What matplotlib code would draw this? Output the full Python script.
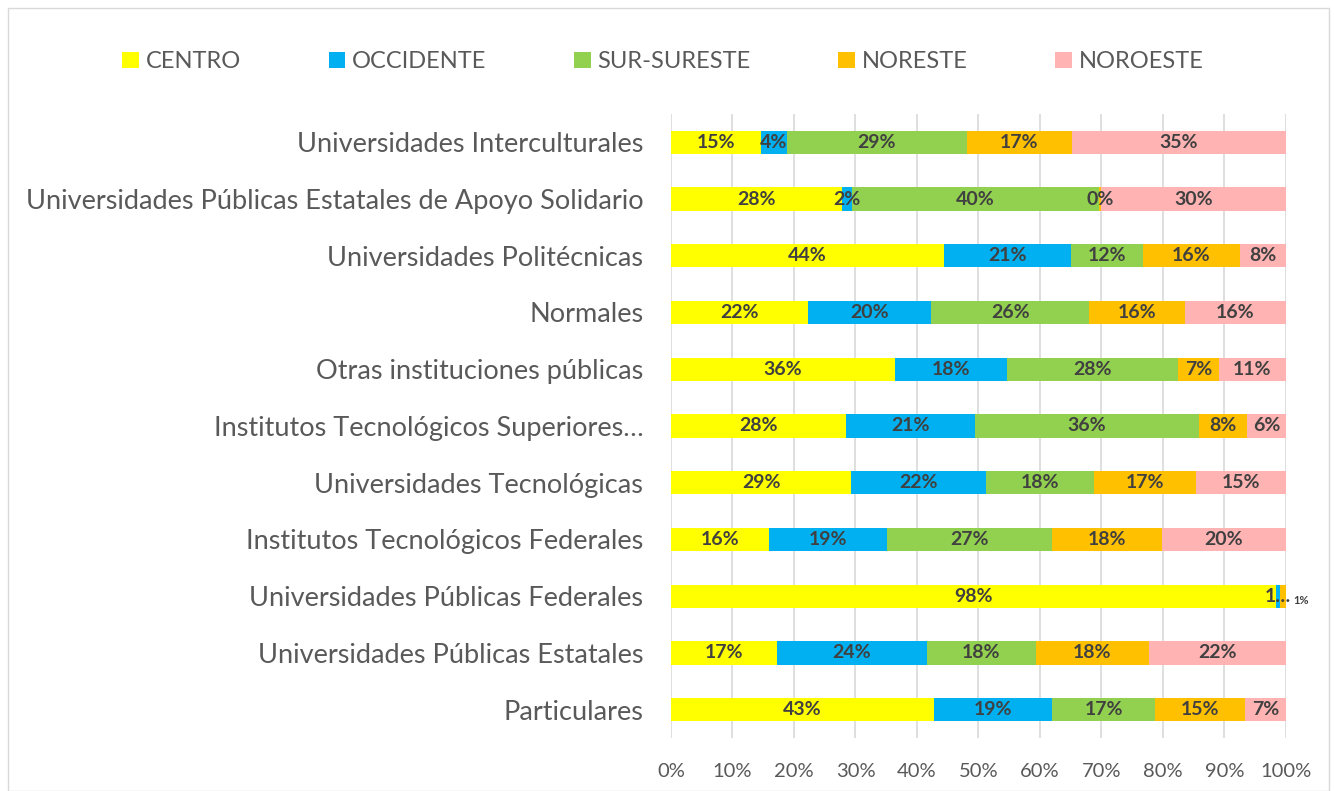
import numpy as np
import matplotlib.pyplot as plt
from matplotlib.patches import Rectangle

plt.rcParams['font.family'] = ['Lato', 'DejaVu Sans']

categorias = ['Universidades Interculturales',
              'Universidades Públicas Estatales de Apoyo Solidario',
              'Universidades Politécnicas',
              'Normales',
              'Otras instituciones públicas',
              'Institutos Tecnológicos Superiores…',
              'Universidades Tecnológicas',
              'Institutos Tecnológicos Federales',
              'Universidades Públicas Federales',
              'Universidades Públicas Estatales',
              'Particulares']

regiones = ['CENTRO', 'OCCIDENTE', 'SUR-SURESTE', 'NORESTE', 'NOROESTE']
colores = ['#FFFF00', '#00B0F0', '#92D050', '#FFC000', '#FFB3B3']

centro      = [14.6, 27.8, 44.4, 22.3, 36.4, 28.4, 29.3, 15.9, 98.4, 17.2, 42.8]
occidente   = [4.2, 1.6, 20.6, 20.0, 18.2, 21.0, 21.9, 19.2, 0.6, 24.4, 19.2]
sur_sureste = [29.3, 40.2, 11.7, 25.7, 27.8, 36.4, 17.6, 26.8, 0.0, 17.7, 16.7]
noreste     = [17.1, 0.3, 15.8, 15.6, 6.7, 7.9, 16.6, 17.9, 1.1, 18.4, 14.6]
noroeste    = [34.8, 30.1, 7.5, 16.4, 10.9, 6.3, 14.6, 20.2, 0.0, 22.3, 6.7]

series = [centro, occidente, sur_sureste, noreste, noroeste]

fig = plt.figure(figsize=(13.34, 7.91), dpi=100)
ax = fig.add_axes([0.503, 0.067, 0.461, 0.789])

y = np.arange(len(categorias))
izq = np.zeros(len(categorias))
for nombre, vals, col in zip(regiones, series, colores):
    vals = np.array(vals)
    ax.barh(y, vals, left=izq, height=0.41, color=col, label=nombre, zorder=3)
    for i, v in enumerate(vals):
        if v == 0:
            continue
        txt = '%d%%' % round(v)
        if categorias[i] == 'Universidades Públicas Federales' and nombre != 'CENTRO':
            if nombre == 'OCCIDENTE':
                ax.text(izq[i] + v / 2, y[i], '1…', ha='center', va='center',
                        fontsize=14, fontweight='bold', color='#404040', zorder=4)
            else:
                ax.text(101.2, y[i] + 0.07, txt, ha='left', va='center',
                        fontsize=8, fontweight='bold', color='#404040',
                        zorder=4, clip_on=False)
            continue
        ax.text(izq[i] + v / 2, y[i], txt, ha='center', va='center',
                fontsize=14, fontweight='bold', color='#404040', zorder=4)
    izq += vals

ax.set_xlim(0, 100)
ax.set_ylim(len(categorias) - 0.5, -0.5)
ax.set_yticks(y)
ax.set_yticklabels(categorias, fontsize=19.5, color='#595959')
ax.set_xticks(np.arange(0, 101, 10))
ax.set_xticklabels(['%d%%' % t for t in range(0, 101, 10)], fontsize=14.5, color='#595959')
ax.tick_params(axis='y', length=0, pad=20)
ax.tick_params(axis='x', length=0, pad=18)
ax.grid(axis='x', color='#D9D9D9', linewidth=1.2, zorder=0)
for s in ax.spines.values():
    s.set_visible(False)

fig.legend(loc='upper center', bbox_to_anchor=(0.497, 0.962), ncol=5, frameon=False,
           fontsize=17, handlelength=0.7, handleheight=0.7, handletextpad=0.3,
           columnspacing=3.7, labelcolor='#595959')

fig.patches.append(Rectangle((0.006, 0.0), 0.99, 0.99, transform=fig.transFigure,
                             fill=False, edgecolor='#D9D9D9', linewidth=1))

fig.savefig('out.png', dpi=100)
